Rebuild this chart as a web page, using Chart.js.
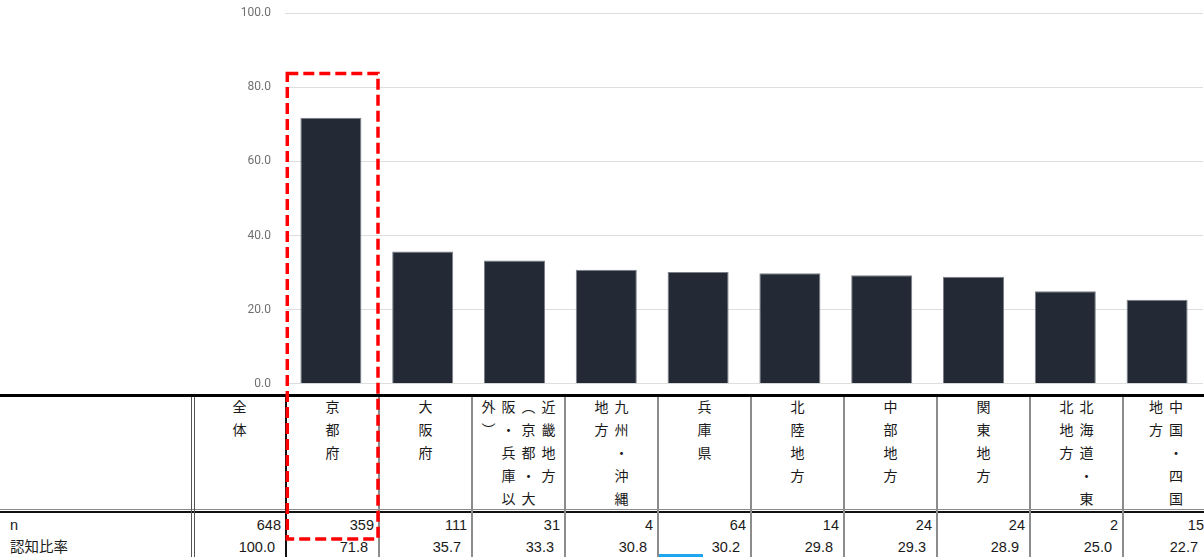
<!DOCTYPE html>
<html lang="ja">
<head>
<meta charset="utf-8">
<script src="https://cdn.jsdelivr.net/npm/chart.js@4/dist/chart.umd.min.js"></script>
<style>
  html, body { margin: 0; padding: 0; background: #fff; }
  #page { position: relative; width: 1204px; height: 557px; overflow: hidden; }
  #chartBox { position: absolute; left: 0; top: -8px; width: 1204px; height: 413px; }
  .ln { position: absolute; }
  .hdr { position: absolute; top: 397px; height: 111px; display: flex; justify-content: center; align-items: flex-start; }
  .hdr span { writing-mode: vertical-rl; height: 116px; margin-top: 3px; font-family: "Noto Sans CJK JP", sans-serif; font-size: 14px; letter-spacing: 9px; line-height: 20px; color: #1a1a1a; }
  .num { position: absolute; height: 20px; line-height: 20px; text-align: right; box-sizing: border-box; font-family: "Liberation Sans", Arial, sans-serif; font-size: 14.5px; color: #1a1a1a; }
  .lbl { position: absolute; left: 10px; height: 20px; line-height: 20px; font-family: "Liberation Sans", "Noto Sans CJK JP", sans-serif; font-size: 14.5px; color: #1a1a1a; }
  #table { position: absolute; left: 0; top: 0; width: 1204px; height: 557px; }
  #mark { position: absolute; left: 0; top: 0; pointer-events: none; }
</style>
</head>
<body>
<div id="page">
  <div id="chartBox"><canvas id="chart"></canvas></div>
  <div id="table"></div>
  <svg id="mark" width="1204" height="557">
    <rect x="287.3" y="73.5" width="90.7" height="465.5" fill="none" stroke="#ff0000" stroke-width="3.5" stroke-dasharray="11 5"/>
  </svg>
</div>
<script>
// 表の列（先頭は「全体」、グラフは2列目以降）
const headers = ['全体', '京都府', '大阪府', '近畿地方（京都・大阪・兵庫以外）', '九州・沖縄地方', '兵庫県',
  '北陸地方', '中部地方', '関東地方', '北海道・東北地方', '中国・四国地方'];
const nCounts = [648, 359, 111, 31, 4, 64, 14, 24, 24, 2, 15];
const ratios = [100.0, 71.8, 35.7, 33.3, 30.8, 30.2, 29.8, 29.3, 28.9, 25.0, 22.7];
const rowLabels = ['n', '認知比率'];
const yTicks = [0, 20, 40, 60, 80, 100];

const barLabels = headers.slice(1);
const barValues = ratios.slice(1);

// グラフ
new Chart(document.getElementById('chart'), {
  type: 'bar',
  data: {
    labels: barLabels,
    datasets: [{
      data: barValues,
      backgroundColor: '#232a36',
      borderColor: '#7d8187',
      borderWidth: 1,
      barPercentage: 0.665,
      categoryPercentage: 1
    }]
  },
  options: {
    responsive: true,
    maintainAspectRatio: false,
    animation: false,
    layout: { padding: { top: 4, right: 1, bottom: 9, left: 0 } },
    plugins: { legend: { display: false }, tooltip: { enabled: false } },
    scales: {
      x: { display: false, grid: { display: false } },
      y: {
        min: 0,
        max: 100,
        afterFit: scale => { scale.width = 285; },
        afterBuildTicks: scale => { scale.ticks = yTicks.map(v => ({ value: v })); },
        border: { display: false },
        grid: { color: '#dedede', drawTicks: false },
        ticks: {
          padding: 14,
          color: '#707070',
          font: { family: 'Roboto', size: 12 },
          callback: v => Number(v).toFixed(1)
        }
      }
    }
  }
});

// 表
const table = document.getElementById('table');
const colW = 93, tableX = 193;
const colLeft = i => tableX + i * colW;
const colWidth = i => (i === headers.length - 1 ? 86 : colW);

function add(cls, css, text) {
  const d = document.createElement('div');
  d.className = cls;
  Object.assign(d.style, css);
  if (text !== undefined) d.textContent = text;
  table.appendChild(d);
  return d;
}

// 罫線
add('ln', { left: '0px', top: '397px', width: '1204px', height: '160px', background: '#fff' });
add('ln', { left: '0px', top: '394px', width: '1204px', height: '3px', background: '#000' });
add('ln', { left: '0px', top: '509px', width: '1204px', height: '1px', background: '#8a8a8a' });
add('ln', { left: '0px', top: '511px', width: '1204px', height: '2px', background: '#111' });
add('ln', { left: '191px', top: '397px', width: '1px', height: '160px', background: '#555' });
add('ln', { left: '194px', top: '397px', width: '1px', height: '160px', background: '#555' });
add('ln', { left: '285px', top: '397px', width: '2px', height: '160px', background: '#111' });
for (let i = 2; i < headers.length; i++) {
  add('ln', { left: (colLeft(i) - 1) + 'px', top: '397px', width: '2px', height: '160px', background: '#8c8c8c' });
}

// 見出し・数値
headers.forEach((h, i) => {
  const w = colWidth(i) + 'px';
  const cell = add('hdr', { left: colLeft(i) + 'px', width: w });
  const s = document.createElement('span');
  s.textContent = h;
  cell.appendChild(s);
  add('num', { left: colLeft(i) + 'px', width: w, top: '515px', paddingRight: '5px' }, String(nCounts[i]));
  add('num', { left: colLeft(i) + 'px', width: w, top: '537px', paddingRight: '11px' }, ratios[i].toFixed(1));
});
add('lbl', { top: '515px' }, rowLabels[0]);
add('lbl', { top: '537px' }, rowLabels[1]);

// 選択カーソル
add('ln', { left: '659px', top: '554px', width: '44px', height: '3px', background: '#1ea7f0' });
</script>
</body>
</html>
